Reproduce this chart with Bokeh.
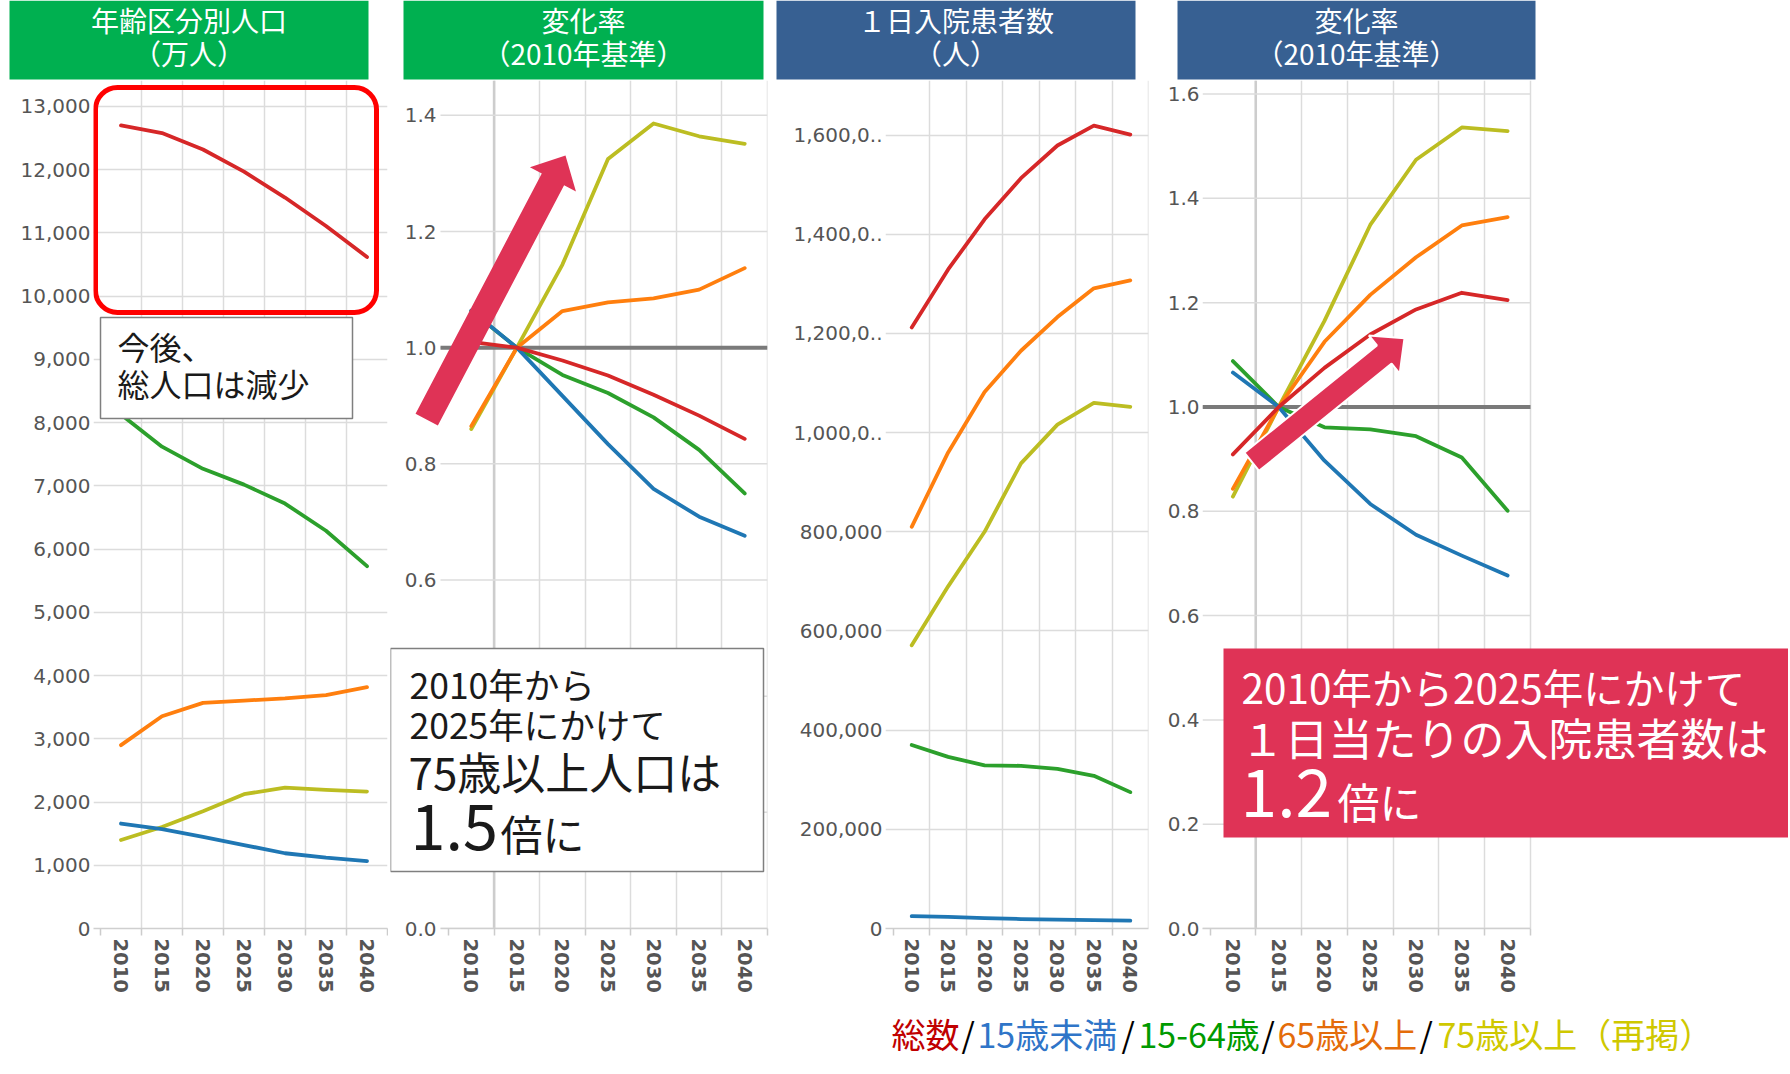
import math
from bokeh.plotting import figure
from bokeh.layouts import row, column
from bokeh.models import (Range1d, FixedTicker, BoxAnnotation, Label, PolyAnnotation,
                          Span, NumeralTickFormatter, ColumnDataSource)
from bokeh.embed import file_html
from bokeh.resources import INLINE
from bokeh.core.properties import value

# ---------------- data ----------------
years = [2010, 2015, 2020, 2025, 2030, 2035, 2040]
series = ["総数", "15歳未満", "15-64歳", "65歳以上", "75歳以上（再掲）"]
line_colors = ["#d62728", "#1f77b4", "#2ca02c", "#ff7f0e", "#bcbd22"]

# 年齢区分別人口（万人）
pop_total = [12700, 12580, 12320, 11970, 11560, 11110, 10620]
pop_u15 = [1660, 1570, 1450, 1320, 1190, 1120, 1067]
pop_1564 = [8130, 7620, 7270, 7020, 6720, 6290, 5730]
pop_65 = [2900, 3357, 3568, 3605, 3638, 3692, 3816]
pop_75 = [1399, 1606, 1855, 2124, 2228, 2192, 2166]

# 変化率（人口）
prate_total = [1.010, 1.0, 0.978, 0.952, 0.919, 0.883, 0.843]
prate_u15 = [1.064, 1.0, 0.917, 0.834, 0.757, 0.709, 0.676]
prate_1564 = [1.063, 1.0, 0.953, 0.922, 0.880, 0.824, 0.749]
prate_65 = [0.865, 1.0, 1.063, 1.078, 1.085, 1.100, 1.137]
prate_75 = [0.860, 1.0, 1.143, 1.325, 1.386, 1.364, 1.351]

# １日入院患者数（人）
inp_total = [1212000, 1329000, 1430000, 1513000, 1579000, 1619000, 1601000]
inp_u15 = [25000, 23500, 21000, 19100, 17700, 16800, 15900]
inp_1564 = [370000, 346000, 329000, 328000, 322000, 308000, 275000]
inp_65 = [810000, 960000, 1082000, 1165000, 1233000, 1291000, 1307000]
inp_75 = [571000, 690000, 800000, 938000, 1016000, 1060000, 1052000]

# 変化率（入院患者数）
irate_total = [0.909, 1.0, 1.075, 1.139, 1.187, 1.219, 1.205]
irate_u15 = [1.066, 1.0, 0.897, 0.814, 0.755, 0.715, 0.677]
irate_1564 = [1.088, 1.0, 0.961, 0.957, 0.944, 0.903, 0.801]
irate_65 = [0.843, 1.0, 1.125, 1.215, 1.287, 1.348, 1.364]
irate_75 = [0.828, 1.0, 1.165, 1.349, 1.474, 1.536, 1.529]

pop_ticks = [0, 1000, 2000, 3000, 4000, 5000, 6000, 7000, 8000, 9000, 10000, 11000, 12000, 13000]
rate_ticks_a = [0.0, 0.2, 0.4, 0.6, 0.8, 1.0, 1.2, 1.4]
inp_ticks = [0, 200000, 400000, 600000, 800000, 1000000, 1200000, 1400000, 1600000]
inp_tick_overrides = {1000000: "1,000,0..", 1200000: "1,200,0..",
                      1400000: "1,400,0..", 1600000: "1,600,0.."}
rate_ticks_b = [0.0, 0.2, 0.4, 0.6, 0.8, 1.0, 1.2, 1.4, 1.6]
base_rate = 1.0

headers_line1 = ["年齢区分別人口", "変化率", "１日入院患者数", "変化率"]
headers_line2 = ["（万人）", "（2010年基準）", "（人）", "（2010年基準）"]
legend_colors = ["#C00000", "#2F75C8", "#009A00", "#E46C0A", "#CFC800"]

# ---------------- styling / layout (page pixels) ----------------
FONT_JP = "Noto Sans CJK JP"
FONT_AX = "DejaVu Sans"
FRAME_TOP = 80
FRAME_BOTTOM = 928
FRAME_H = FRAME_BOTTOM - FRAME_TOP
BOTTOM_BORDER = 75
TOTAL_W = 1788
GREEN_H = "#00B050"
BLUE_H = "#376092"
PINK = "#DF3356"
GRID = "#dcdcdc"
BAND_END = 2042.5

header_left = [9, 403, 776, 1177]
header_right = [368, 763, 1135, 1535]
header_fill = [GREEN_H, GREEN_H, BLUE_H, BLUE_H]


def make_panel(fig_left, frame_left, frame_w, fig_right, band_left, ppx, y_end, yticks,
               fmt, overrides=None, grid_from=None, y_standoff=3):
    x_start = 2007.5 - (band_left - frame_left) / ppx
    x_end = x_start + frame_w / ppx
    p = figure(frame_width=frame_w, frame_height=FRAME_H,
               min_border_left=frame_left - fig_left,
               min_border_right=fig_right - (frame_left + frame_w),
               min_border_top=0, min_border_bottom=BOTTOM_BORDER,
               x_range=Range1d(x_start, x_end), y_range=Range1d(0, y_end),
               output_backend="svg", toolbar_location=None, tools="")
    p.outline_line_color = None
    p.background_fill_color = "white"
    p.border_fill_color = "white"

    ppy = FRAME_H / y_end

    def fx(X):
        return x_start + (X - frame_left) / ppx

    def fy(Y):
        return (FRAME_BOTTOM - Y) / ppy

    bounds = [2007.5 + 5 * i for i in range(8)]
    p.xaxis.ticker = FixedTicker(ticks=years, minor_ticks=bounds)
    p.xaxis.major_label_orientation = "vertical"
    p.xaxis.major_label_text_font = FONT_AX
    p.xaxis.major_label_text_font_style = "bold"
    p.xaxis.major_label_text_font_size = "19.5px"
    p.xaxis.major_label_text_color = "#555555"
    p.xaxis.major_tick_line_color = None
    p.xaxis.major_tick_out = 0
    p.xaxis.minor_tick_line_color = "#cccccc"
    p.xaxis.minor_tick_line_width = 1.5
    p.xaxis.minor_tick_out = 7
    p.xaxis.minor_tick_in = 0
    p.xaxis.major_label_standoff = 3
    p.xaxis.axis_line_color = "#cfcfcf"
    p.xaxis.axis_line_width = 1.5

    p.yaxis.ticker = FixedTicker(ticks=yticks)
    p.yaxis.formatter = NumeralTickFormatter(format=fmt)
    if overrides:
        p.yaxis.major_label_overrides = overrides
    p.yaxis.major_label_text_font = FONT_AX
    p.yaxis.major_label_text_font_size = "20px"
    p.yaxis.major_label_text_color = "#555555"
    p.yaxis.major_tick_line_color = None
    p.yaxis.minor_tick_line_color = None
    p.yaxis.major_tick_out = 0
    p.yaxis.minor_tick_out = 0
    p.yaxis.axis_line_color = None
    p.yaxis.major_label_standoff = y_standoff

    p.xgrid.ticker = FixedTicker(ticks=[], minor_ticks=bounds[1:])
    p.xgrid.grid_line_color = None
    p.xgrid.minor_grid_line_color = GRID
    p.xgrid.minor_grid_line_width = 1.5
    if grid_from is None:
        p.ygrid.grid_line_color = GRID
        p.ygrid.grid_line_width = 1.5
    else:
        # horizontal grid lines only across the plotted bands
        p.ygrid.grid_line_color = None
        g0 = fx(grid_from)
        p.segment(x0=[g0] * len(yticks), x1=[BAND_END] * len(yticks), y0=yticks, y1=yticks,
                  line_color=GRID, line_width=1.5)
        p.xaxis.bounds = (g0, BAND_END)
    return p, fx, fy


def add_lines(p, vals):
    for i in [4, 3, 2, 1, 0]:
        p.line(years, vals[i], line_color=line_colors[i], line_width=3.8,
               line_join="round", line_cap="round")


def add_text(p, fx, fy, X, Y, t, size, color="#1a1a1a"):
    p.add_layout(Label(x=fx(X), y=fy(Y), text=t, text_align="left", text_baseline="middle",
                       text_color=color, text_font=FONT_JP, text_font_size=size))


def add_arrow(p, fx, fy, T, P, ws, wh, hl, outline=None):
    dx, dy = P[0] - T[0], P[1] - T[1]
    L = math.hypot(dx, dy)
    ux, uy = dx / L, dy / L
    nx, ny = -uy, ux
    B = (P[0] - ux * hl, P[1] - uy * hl)
    pts = [(T[0] + nx * ws, T[1] + ny * ws), (B[0] + nx * ws, B[1] + ny * ws),
           (B[0] + nx * wh, B[1] + ny * wh), P,
           (B[0] - nx * wh, B[1] - ny * wh), (B[0] - nx * ws, B[1] - ny * ws),
           (T[0] - nx * ws, T[1] - ny * ws)]
    p.add_layout(PolyAnnotation(xs=[fx(a) for a, _ in pts], ys=[fy(b) for _, b in pts],
                                fill_color=PINK, fill_alpha=1.0,
                                line_color=outline if outline else None, line_alpha=1.0,
                                line_width=2 if outline else 0))


def add_box(p, fx, fy, l, r, t, b, fill, line=None, lw=1.5, radius=0):
    p.add_layout(BoxAnnotation(left=fx(l), right=fx(r), top=fy(t), bottom=fy(b),
                               fill_color=fill, fill_alpha=1.0,
                               line_color=line, line_alpha=1.0, line_width=lw,
                               border_radius=radius))


# ---------------- header strip ----------------
hdr = figure(width=TOTAL_W, height=FRAME_TOP, x_range=Range1d(0, TOTAL_W),
             y_range=Range1d(FRAME_TOP, 0), output_backend="svg", toolbar_location=None,
             tools="", x_axis_type=None, y_axis_type=None, min_border=0)
hdr.outline_line_color = None
hdr.grid.visible = False
hdr.quad(left=header_left, right=header_right, top=[0] * 4, bottom=[79] * 4,
         fill_color=header_fill, line_color=None)
hcx = [(a + b) / 2 for a, b in zip(header_left, header_right)]
hdr.text(x=hcx, y=[19.5] * 4, text=headers_line1, text_color="white",
         text_font=value(FONT_JP), text_font_size="28px", text_align="center",
         text_baseline="middle")
hdr.text(x=hcx, y=[52.5] * 4, text=headers_line2, text_color="white",
         text_font=value(FONT_JP), text_font_size="28px", text_align="center",
         text_baseline="middle")

# ---------------- panel 1 ----------------
p1, fx1, fy1 = make_panel(0, 93, 294, 388, 100, 8.2, 13411, pop_ticks, "0,0")
add_lines(p1, [pop_total, pop_u15, pop_1564, pop_65, pop_75])
add_box(p1, fx1, fy1, 95, 376, 87, 312, None, "#FF0000", 5, 22)
add_box(p1, fx1, fy1, 100, 352, 317, 418, "white", "#7f7f7f", 1.5)
add_text(p1, fx1, fy1, 117, 345, "今後、", "32px")
add_text(p1, fx1, fy1, 117, 382, "総人口は減少", "32px")

# ---------------- panel 2 ----------------
p2, fx2, fy2 = make_panel(388, 390, 377, 775, 448, 9.114, 1.46, rate_ticks_a, "0.0",
                          grid_from=440, y_standoff=-46)
p2.add_layout(Span(location=2012.5, dimension="height", line_color="#cdcdcd",
                   line_width=2.5, level="underlay"))
p2.segment(x0=[fx2(440)], x1=[BAND_END], y0=[base_rate], y1=[base_rate],
           line_color="#7a7a7a", line_width=4)
add_lines(p2, [prate_total, prate_u15, prate_1564, prate_65, prate_75])
add_arrow(p2, fx2, fy2, (426.2, 419.2), (565.0, 155.0), 12.6, 26.0, 27.0)
add_box(p2, fx2, fy2, 390, 763, 648, 871, "white", "#7f7f7f", 1.5)
add_text(p2, fx2, fy2, 409, 683, "2010年から", "35.5px")
add_text(p2, fx2, fy2, 409, 723, "2025年にかけて", "35.5px")
add_text(p2, fx2, fy2, 408, 770, "75歳以上人口は", "44px")
add_text(p2, fx2, fy2, 410, 826, "1.5", "63px")
add_text(p2, fx2, fy2, 500, 832, "倍に", "42px")

# ---------------- panel 3 ----------------
p3, fx3, fy3 = make_panel(775, 885, 263, 1162, 893, 7.286, 1710000, inp_ticks, "0,0",
                          inp_tick_overrides)
add_lines(p3, [inp_total, inp_u15, inp_1564, inp_65, inp_75])

# ---------------- panel 4 ----------------
p4, fx4, fy4 = make_panel(1162, 1202, TOTAL_W - 1202, TOTAL_W, 1209.5, 9.157, 1.626,
                          rate_ticks_b, "0.0", grid_from=1202)
p4.add_layout(Span(location=2012.5, dimension="height", line_color="#cdcdcd",
                   line_width=2.5, level="underlay"))
p4.segment(x0=[fx4(1202)], x1=[BAND_END], y0=[base_rate], y1=[base_rate],
           line_color="#7a7a7a", line_width=4)
add_lines(p4, [irate_total, irate_u15, irate_1564, irate_65, irate_75])
add_arrow(p4, fx4, fy4, (1251.2, 461.3), (1404.0, 337.7), 11.7, 24.5, 26.0, outline="white")
add_box(p4, fx4, fy4, 1223, 1795, 648, 837, PINK, None, 0)
add_text(p4, fx4, fy4, 1241, 686, "2010年から2025年にかけて", "40.5px", color="white")
add_text(p4, fx4, fy4, 1240, 736, "１日当たりの入院患者数は", "44px", color="white")
add_text(p4, fx4, fy4, 1240, 792, "1.2", "66px", color="white")
add_text(p4, fx4, fy4, 1337, 800, "倍に", "42px", color="white")

# ---------------- legend strip ----------------
LEG_TOP = FRAME_TOP + FRAME_H + BOTTOM_BORDER
LEG_H = 60
leg = figure(width=TOTAL_W, height=LEG_H, x_range=Range1d(0, TOTAL_W),
             y_range=Range1d(LEG_TOP + LEG_H, LEG_TOP),
             output_backend="svg", toolbar_location=None, tools="",
             x_axis_type=None, y_axis_type=None, min_border=0)
leg.outline_line_color = None
leg.grid.visible = False
seg_text, seg_color = [], []
for i, s in enumerate(series):
    if i > 0:
        seg_text.append("/")
        seg_color.append("#000000")
    seg_text.append(s)
    seg_color.append(legend_colors[i])
seg_x = [891, 961, 977, 1121, 1138, 1261, 1277, 1419, 1437]
src = ColumnDataSource(dict(x=seg_x, y=[1033] * len(seg_x), t=seg_text, c=seg_color))
leg.text(x="x", y="y", text="t", text_color="c", source=src, text_font=value(FONT_JP),
         text_font_size="34px", text_baseline="middle", text_align="left")

layout = column(hdr, row(p1, p2, p3, p4, spacing=0), leg, spacing=0)
open("out.html", "w").write(file_html(layout, INLINE))
